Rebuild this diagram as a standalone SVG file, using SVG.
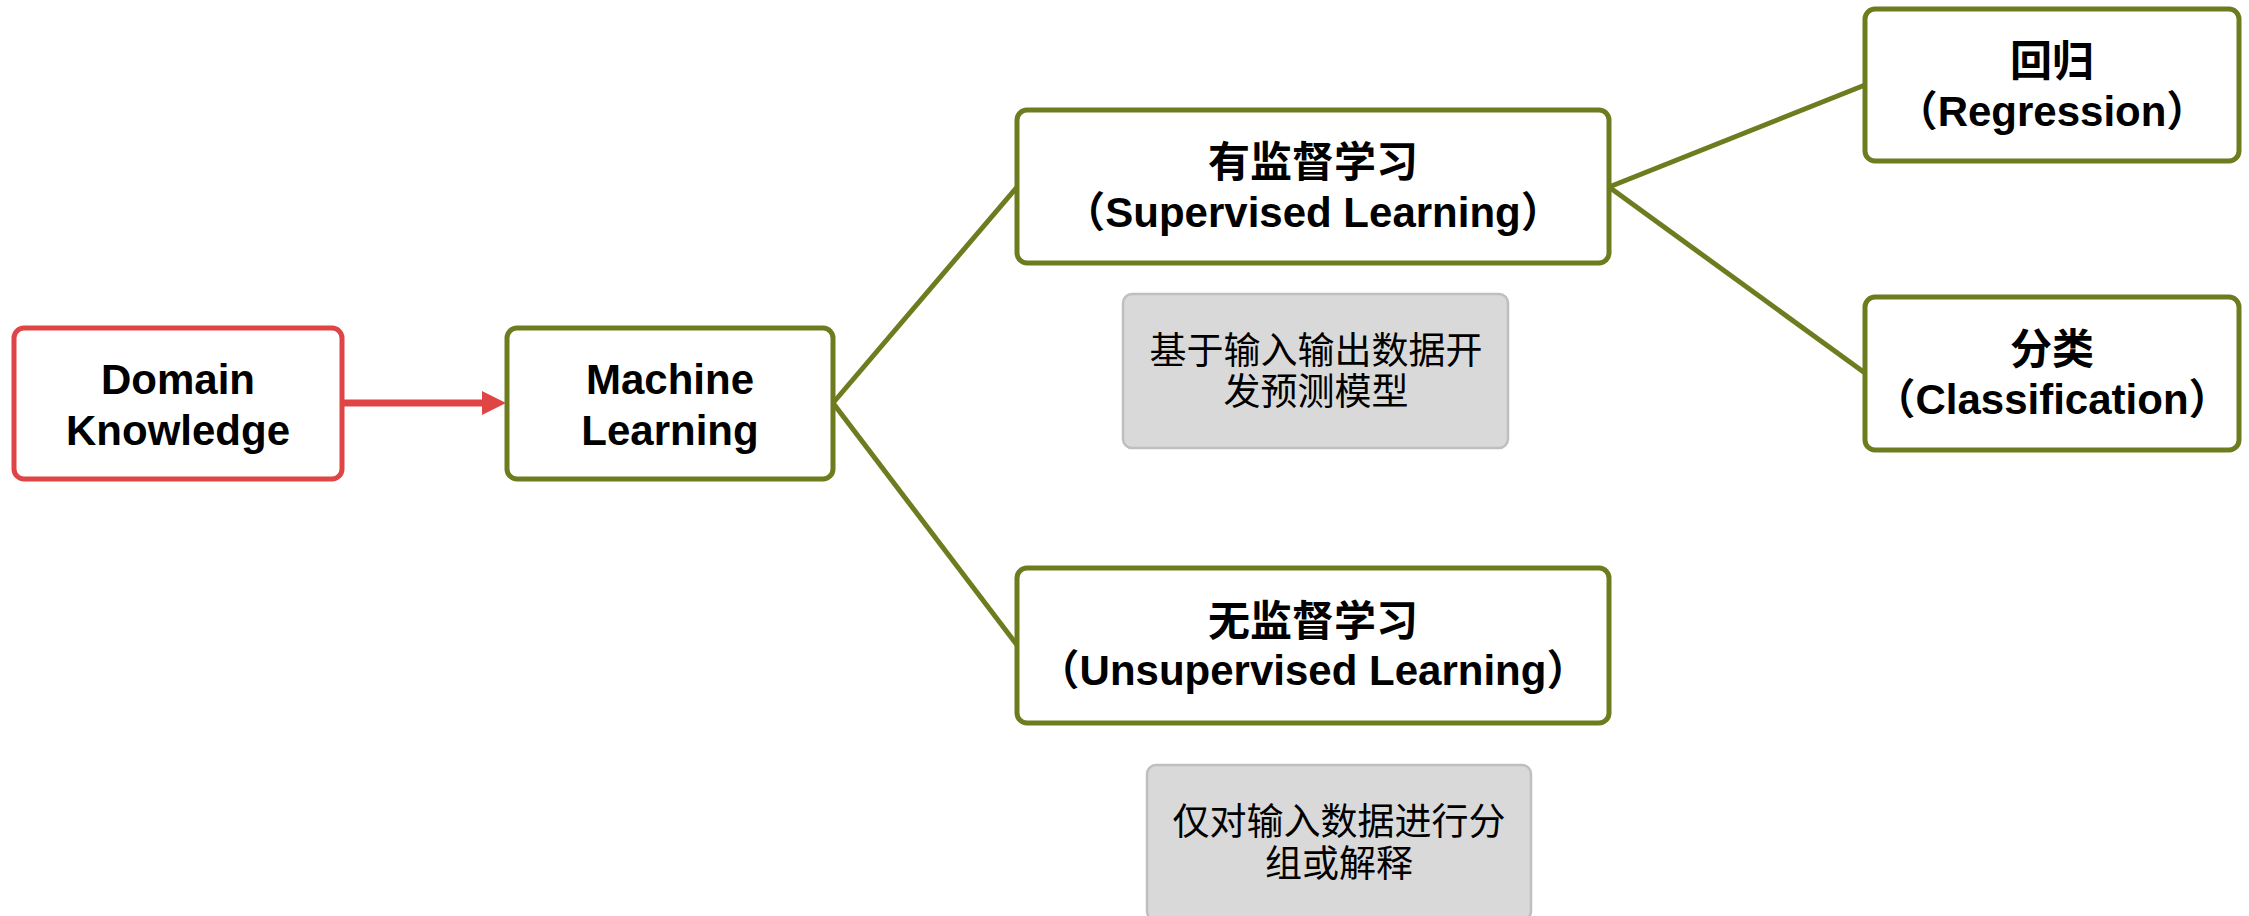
<svg xmlns="http://www.w3.org/2000/svg" width="2249" height="916" viewBox="0 0 2249 916">
<style>
.bg{fill:#ffffff}
.box{fill:#ffffff;stroke:#6E7C1F;stroke-width:5}
.red{fill:#ffffff;stroke:#E04545;stroke-width:5}
.note{fill:#D9D9D9;stroke:#BFBFBF;stroke-width:2.5}
.edge{fill:none;stroke:#6E7C1F;stroke-width:5}
.t{font-family:"Liberation Sans","Noto Sans CJK SC",Arial,sans-serif;font-weight:bold;font-size:42px;fill:#000000;text-anchor:middle}
.n{font-family:"Noto Sans CJK SC","Liberation Sans",sans-serif;font-size:37px;fill:#000000;text-anchor:middle}
</style>
<defs>
<marker id="arrow" viewBox="0 0 24 24" refX="8" refY="12" markerWidth="24" markerHeight="24" markerUnits="userSpaceOnUse" orient="auto">
<path d="M0,0 L24,12 L0,24 Z" fill="#E04545"/>
</marker>
</defs>
<rect class="bg" x="0" y="0" width="2249" height="916"/>
<g id="connectors">
<line x1="342" y1="403" x2="490" y2="403" stroke="#E04545" stroke-width="7" marker-end="url(#arrow)"/>
<line class="edge" x1="833" y1="403" x2="1017" y2="187"/>
<line class="edge" x1="833" y1="403" x2="1017" y2="645"/>
<line class="edge" x1="1609" y1="187" x2="1865" y2="85"/>
<line class="edge" x1="1609" y1="187" x2="1865" y2="373"/>
</g>
<g id="domain-knowledge">
<rect class="red" x="14" y="328" width="328" height="151" rx="10"/>
<text class="t" x="178" y="394">Domain</text>
<text class="t" x="178" y="445">Knowledge</text>
</g>
<g id="machine-learning">
<rect class="box" x="507" y="328" width="326" height="151" rx="10"/>
<text class="t" x="670" y="394">Machine</text>
<text class="t" x="670" y="445">Learning</text>
</g>
<g id="supervised">
<rect class="box" x="1017" y="110" width="592" height="153" rx="10"/>
<text class="t" x="1313" y="177">有监督学习</text>
<text class="t" x="1313" y="227">（Supervised Learning）</text>
</g>
<g id="supervised-note">
<rect class="note" x="1123" y="294" width="385" height="154" rx="9"/>
<text class="n" x="1316" y="364">基于输入输出数据开</text>
<text class="n" x="1316" y="405">发预测模型</text>
</g>
<g id="unsupervised">
<rect class="box" x="1017" y="568" width="592" height="155" rx="10"/>
<text class="t" x="1313" y="636">无监督学习</text>
<text class="t" x="1313" y="685">（Unsupervised Learning）</text>
</g>
<g id="unsupervised-note">
<rect class="note" x="1147" y="765" width="384" height="155" rx="9"/>
<text class="n" x="1339" y="835">仅对输入数据进行分</text>
<text class="n" x="1339" y="877">组或解释</text>
</g>
<g id="regression">
<rect class="box" x="1865" y="9" width="374" height="152" rx="10"/>
<text class="t" x="2052" y="76">回归</text>
<text class="t" x="2052" y="126">（Regression）</text>
</g>
<g id="classification">
<rect class="box" x="1865" y="297" width="374" height="153" rx="10"/>
<text class="t" x="2052" y="364">分类</text>
<text class="t" x="2052" y="414">（Classification）</text>
</g>
</svg>
